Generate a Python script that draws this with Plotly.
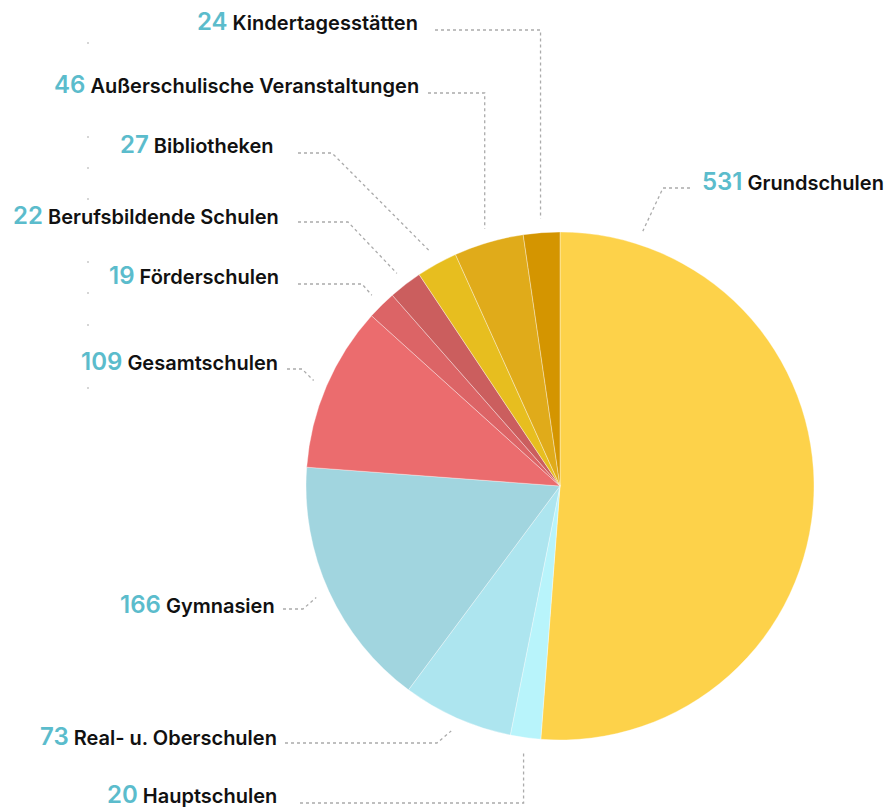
import numpy as np
import plotly.graph_objects as go

categories = ["Grundschulen", "Hauptschulen", "Real- u. Oberschulen", "Gymnasien",
              "Gesamtschulen", "Förderschulen", "Berufsbildende Schulen", "Bibliotheken",
              "Außerschulische Veranstaltungen", "Kindertagesstätten"]
values = [531, 20, 73, 166, 109, 19, 22, 27, 46, 24]
colors = ["#FDD24A", "#B8F4FB", "#ADE5EF", "#A1D5DF", "#EB6C6E",
          "#DC6466", "#CB5E5E", "#E7BE1F", "#E0AB1A", "#D49500"]

W, H = 890, 809
CX, CY, R = 560, 486, 254
R_LEAD = 268
NUM_COLOR = "#5BBCCC"

# label placement in pixels: (text x, text y, anchor, line y, line start x, elbow x or None = vertical)
label_pos = {
    "Grundschulen": (700, 181, "left", 188, 690, 663),
    "Hauptschulen": (279, 794, "right", 803, 300, None),
    "Real- u. Oberschulen": (279, 736, "right", 743, 285, 437),
    "Gymnasien": (277, 604, "right", 609, 283, 303),
    "Gesamtschulen": (280, 361, "right", 369, 287, 302),
    "Förderschulen": (281, 275, "right", 284, 298, 362),
    "Berufsbildende Schulen": (281, 215, "right", 222, 298, 348),
    "Bibliotheken": (276, 144, "right", 153, 298, 332),
    "Außerschulische Veranstaltungen": (421, 84, "right", 93, 428, None),
    "Kindertagesstätten": (420, 21, "right", 30, 435, None),
}
anchor_angle_override = {"Grundschulen": 18}

total = sum(values)
cum = np.cumsum(values) - np.array(values)

fig = go.Figure()
fig.add_trace(go.Pie(
    labels=categories, values=values, sort=False, direction="clockwise", rotation=0,
    marker=dict(colors=colors, line=dict(color="rgba(255,255,255,0.6)", width=0.6)),
    textinfo="none", hoverinfo="label+value", showlegend=False,
    domain=dict(x=[(CX - R) / W, (CX + R) / W], y=[1 - (CY + R) / H, 1 - (CY - R) / H]),
))

annotations = []
for i, (cat, val) in enumerate(zip(categories, values)):
    tx, ty, anchor, ly, sx, ex = label_pos[cat]
    ang = anchor_angle_override.get(cat, (cum[i] + val / 2) / total * 360)
    px = CX + R_LEAD * np.sin(np.radians(ang))
    py = CY - R_LEAD * np.cos(np.radians(ang))
    if ex is None:
        xs, ys = [sx, px, px], [ly, ly, py]
    else:
        xs, ys = [sx, ex, px], [ly, ly, py]
    fig.add_trace(go.Scatter(x=xs, y=ys, mode="lines", xaxis="x", yaxis="y",
                             line=dict(color="#ABABAB", width=1.3, dash="dot"),
                             hoverinfo="skip", showlegend=False))
    annotations.append(dict(
        x=tx, y=ty, xref="x", yref="y", xanchor=anchor, yanchor="middle", showarrow=False,
        text=f"<span style='font-size:24px;color:{NUM_COLOR}'>{val}</span> {cat}",
        font=dict(family="Inter", size=20, color="#111111", weight=600),
    ))

# faint tick remnants on the left
fig.add_trace(go.Scatter(x=[88] * 8, y=[43, 137, 168, 199, 262, 293, 325, 388], mode="markers",
                         marker=dict(size=2, color="#C8C8C8"), hoverinfo="skip", showlegend=False))

fig.update_layout(
    width=W, height=H, margin=dict(l=0, r=0, t=0, b=0),
    paper_bgcolor="white", plot_bgcolor="rgba(0,0,0,0)",
    xaxis=dict(range=[0, W], visible=False, domain=[0, 1], fixedrange=True),
    yaxis=dict(range=[H, 0], visible=False, domain=[0, 1], fixedrange=True),
    annotations=annotations,
)
fig.write_html("out.html", config={"displayModeBar": False},
               post_script="document.body.style.margin='0';")
